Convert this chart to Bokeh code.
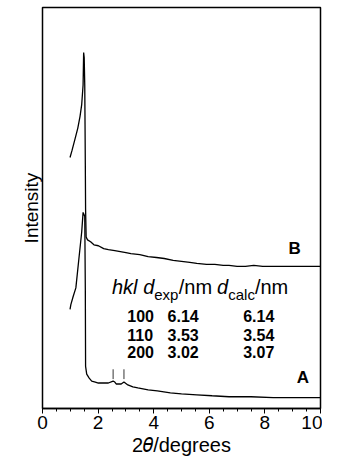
from bokeh.plotting import figure
from bokeh.models import Label, Range1d, FixedTicker
from bokeh.embed import file_html
from bokeh.resources import INLINE

# ---- data (2theta in degrees, intensity in arbitrary units) ----
b_x = [0.99, 1.06, 1.18, 1.27, 1.35, 1.41, 1.46, 1.48, 1.50, 1.52, 1.53, 1.54, 1.55, 1.57, 1.62,
       1.73, 1.85, 2.01, 2.2, 2.37, 2.6, 2.8, 3.0, 3.18, 3.5, 3.8, 4.1, 4.38, 4.7, 5.0, 5.3,
       5.55, 5.9, 6.2, 6.5, 6.71, 7.0, 7.3, 7.6, 7.92, 8.3, 8.7, 9.1, 9.5, 10.0]
b_y = [256, 263, 276, 286, 298, 310, 330, 363, 358, 330, 290, 250, 203, 175, 172,
       170, 167, 166, 163, 162, 161, 160, 159, 158, 157, 155, 154, 153, 151, 150, 149,
       148, 147, 147, 146, 146, 145, 145, 146, 145, 145, 145, 145, 145, 145]

a_x = [0.99, 1.02, 1.1, 1.2, 1.31, 1.41, 1.46, 1.52, 1.54, 1.55, 1.59, 1.68, 1.77, 1.9, 2.01,
       2.2, 2.37, 2.54, 2.6, 2.65, 2.83, 2.93, 3.07, 3.25, 3.43, 3.8, 4.13, 4.6, 5.0, 5.55,
       6.1, 6.71, 7.5, 8.3, 9.08, 10.0]
a_y = [101, 106, 114, 123, 153, 180, 200, 196, 123, 43, 35, 31, 28, 27, 26,
       26, 26, 28, 27, 25, 25, 27, 24, 22, 21, 19, 18, 16, 15, 14,
       13, 12, 12, 11, 11, 11]

marker_x = [2.54, 2.93]

hkl = ["100", "110", "200"]
d_exp = ["6.14", "3.53", "3.02"]
d_calc = ["6.14", "3.54", "3.07"]

x_ticks = [0, 2, 4, 6, 8, 10]

FONT = "Liberation Sans"

p = figure(width=322, height=458, output_backend="svg", toolbar_location=None,
           x_range=Range1d(0, 10), y_range=Range1d(0, 409),
           min_border_left=42, min_border_right=2, min_border_top=7, min_border_bottom=40)

p.background_fill_color = "white"
p.border_fill_color = "white"
p.outline_line_color = "black"
p.outline_line_width = 1.5
p.grid.visible = False

# x axis
xa = p.xaxis[0]
xa.ticker = FixedTicker(ticks=x_ticks, minor_ticks=[i * 0.5 for i in range(21)])
xa.axis_line_color = "black"
xa.axis_line_width = 1.5
xa.major_tick_in = 0
xa.major_tick_out = 5
xa.minor_tick_in = 0
xa.minor_tick_out = 3
xa.major_tick_line_color = "black"
xa.minor_tick_line_color = "black"
xa.major_label_text_font = FONT
xa.major_label_text_font_size = "19px"
xa.major_label_text_color = "black"
xa.major_label_standoff = 2
xa.axis_label = "2\U0001D703/degrees"
xa.axis_label_text_font = FONT
xa.axis_label_text_font_size = "20px"
xa.axis_label_text_font_style = "normal"
xa.axis_label_text_color = "black"
xa.axis_label_standoff = 2

# y axis: only its label, no ticks
ya = p.yaxis[0]
ya.ticker = FixedTicker(ticks=[], minor_ticks=[])
ya.axis_label = "Intensity"
ya.axis_label_text_font = FONT
ya.axis_label_text_font_size = "19px"
ya.axis_label_text_font_style = "normal"
ya.axis_label_text_color = "black"
ya.axis_label_standoff = 1
ya.major_tick_line_color = None
ya.minor_tick_line_color = None
ya.axis_line_color = None
ya.major_label_standoff = 0

# curves
p.line(b_x, b_y, line_color="black", line_width=1.3)
p.line(a_x, a_y, line_color="black", line_width=1.3)

# reflection markers
p.segment(x0=marker_x, y0=[30] * 2, x1=marker_x, y1=[40] * 2, line_color="black", line_width=0.8)

# curve labels
p.add_layout(Label(x=8.85, y=153, text="B", text_font=FONT, text_font_size="17px",
                   text_font_style="bold", text_color="black"))
p.add_layout(Label(x=9.15, y=22, text="A", text_font=FONT, text_font_size="17px",
                   text_font_style="bold", text_color="black"))

# table header
hdr_y = 113
sub_y = 108
pieces = [
    (2.50, hdr_y, "hkl", "20px", "italic"),
    (3.62, hdr_y, "d", "20px", "italic"),
    (4.02, sub_y, "exp", "15px", "normal"),
    (4.90, hdr_y, "/nm", "20px", "normal"),
    (6.28, hdr_y, "d", "20px", "italic"),
    (6.68, sub_y, "calc", "15px", "normal"),
    (7.64, hdr_y, "/nm", "20px", "normal"),
]
for x, y, t, s, st in pieces:
    p.add_layout(Label(x=x, y=y, text=t, text_font=FONT, text_font_size=s,
                       text_font_style=st, text_color="black"))

# table rows
row_y = [88, 69, 51]
col_x = [3.05, 4.50, 7.22]
for i in range(3):
    for cx, col in zip(col_x, (hkl, d_exp, d_calc)):
        p.add_layout(Label(x=cx, y=row_y[i], text=col[i], text_font=FONT, text_font_size="16px",
                           text_font_style="bold", text_color="black"))

open("out.html", "w").write(file_html(p, INLINE))
